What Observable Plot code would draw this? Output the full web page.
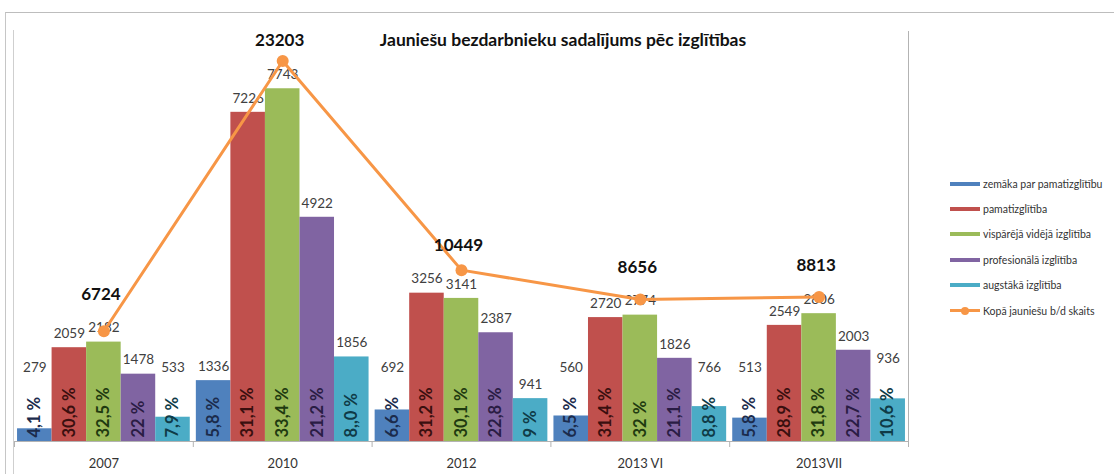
<!DOCTYPE html>
<html><head><meta charset="utf-8">
<script src="https://cdn.jsdelivr.net/npm/d3@7"></script>
<script src="https://cdn.jsdelivr.net/npm/@observablehq/plot@0.6"></script>
<style>
body{margin:0;background:#fff;font-family:Lato,"Open Sans",sans-serif;}
#wrap{position:relative;width:1114px;height:474px;overflow:hidden;background:#fff;}
#border{position:absolute;left:5px;top:12px;width:1200px;height:500px;border-top:1.5px solid #bdbdbd;border-left:1.5px solid #c6c6c6;}
#leftline{position:absolute;left:13px;top:30px;width:1px;height:444px;background:#cfcfcf;}
#chart{position:absolute;left:0;top:0;}
#title{position:absolute;left:0;width:1126px;top:29px;text-align:center;font-weight:700;font-size:17.5px;color:#111;}
#legend{position:absolute;left:950px;top:171px;font-size:10.5px;color:#333;}
.item{display:flex;align-items:center;height:25.4px;white-space:nowrap;}
.sw{width:30px;height:4px;margin-right:3px;position:relative;}
.dot{position:absolute;left:11px;top:-2.5px;width:8px;height:8px;border-radius:50%;}
</style></head>
<body>
<div id="wrap">
  <div id="border"></div>
  <div id="leftline"></div>
  <div id="chart"></div>
  <div id="title">Jauniešu bezdarbnieku sadalījums pēc izglītības</div>
  <div id="legend"></div>
</div>
<script>
// ---- data ----
const groups = ["2007", "2010", "2012", "2013 VI", "2013VII"];
const seriesNames = ["zemāka par pamatizglītību", "pamatizglītība", "vispārējā vidējā izglītība", "profesionālā izglītība", "augstākā izglītība"];
const zemaka = [279, 1336, 692, 560, 513];
const pamat = [2059, 7226, 3256, 2720, 2549];
const visparejaVideja = [2182, 7743, 3141, 2774, 2806];
const profesionala = [1478, 4922, 2387, 1826, 2003];
const augstaka = [533, 1856, 941, 766, 936];
const zemakaPct = ["4,1 %", "5,8 %", "6,6 %", "6,5 %", "5,8 %"];
const pamatPct = ["30,6 %", "31,1 %", "31,2 %", "31,4 %", "28,9 %"];
const visparejaVidejaPct = ["32,5 %", "33,4 %", "30,1 %", "32 %", "31,8 %"];
const profesionalaPct = ["22 %", "21,2 %", "22,8 %", "21,1 %", "22,7 %"];
const augstakaPct = ["7,9 %", "8,,0 %", "9 %", "8,8 %", "10,6 %"];
const totals = [6724, 23203, 10449, 8656, 8813];
const totalName = "Kopā jauniešu b/d skaits";

// ---- styles ----
const barColors = ["#4F81BD", "#C0504D", "#9BBB59", "#8064A2", "#4BACC6"];
const pctColors = ["#1b2b4c", "#3a0f0f", "#1f3a10", "#2a1c44", "#0f3b47"];
const lineColor = "#F79646";

const values = [zemaka, pamat, visparejaVideja, profesionala, augstaka];
const pcts = [zemakaPct, pamatPct, visparejaVidejaPct, profesionalaPct, augstakaPct];

const W = 1114, H = 474, mL = 14, mR = 206, mT = 31, mB = 33;
const primaryMax = 9000, secondaryMax = 25000;
const k = primaryMax / secondaryMax;
const pxPerUnit = (H - mT - mB) / primaryMax;

const bars = [];
groups.forEach((g, i) => seriesNames.forEach((s, j) => bars.push({g, i, s, j, v: values[j][i], p: pcts[j][i]})));
const pad = 0.017, bw = (1 - 2 * pad) / seriesNames.length;
const bx1 = d => d.i + pad + d.j * bw;
const bx2 = d => bx1(d) + bw;
const bxc = d => bx1(d) + bw / 2;
const labelY = d => Math.max(d.v, (d.p.length * 9 + 15) / pxPerUnit);

const lineData = groups.map((g, i) => ({g, i, t: totals[i], m: d3.max(values, a => a[i])}));
const gx = d => d.i + 0.5;

const chart = Plot.plot({
  width: W, height: H,
  marginLeft: mL, marginRight: mR, marginTop: mT, marginBottom: mB,
  x: {type: "linear", domain: [0, groups.length], label: null},
  y: {domain: [0, primaryMax], axis: null},
  color: {type: "identity"},
  style: {fontFamily: "Lato, 'Open Sans', sans-serif", background: "transparent", overflow: "visible"},
  marks: [
    Plot.rectY(bars, {x1: bx1, x2: bx2, y1: 0, y2: "v", fill: d => barColors[d.j]}),
    Plot.ruleY([0], {stroke: "#b3b3b3"}),
    Plot.ruleX([groups.length], {stroke: "#b3b3b3"}),
    Plot.axisX({ticks: d3.range(groups.length + 1), tickSize: 6, tickFormat: () => "", stroke: "#b3b3b3", label: null}),
    Plot.text(lineData, {x: gx, y: 0, text: "g", dy: 22, fontSize: 13, fill: "#333"}),
    Plot.text(bars, {x: bxc, y: 0, text: "p", rotate: -90, textAnchor: "start", dy: -4, fontSize: 16.5, fontWeight: 700, fill: d => pctColors[d.j]}),
    Plot.text(bars, {x: bxc, y: labelY, text: d => String(d.v), dy: -14, fontSize: 13.5, fill: "#404040"}),
    Plot.line(lineData, {x: gx, y: d => d.t * k, stroke: lineColor, strokeWidth: 3}),
    Plot.dot(lineData, {x: gx, y: d => d.t * k, r: 6, fill: lineColor}),
    Plot.text(lineData, {x: gx, y: "m", text: d => String(d.t), dy: -48, dx: -3, fontSize: 17, fontWeight: 700, fill: "#111"})
  ]
});
document.getElementById("chart").appendChild(chart);

// legend
const legend = document.getElementById("legend");
seriesNames.forEach((s, j) => {
  const it = document.createElement("div"); it.className = "item";
  it.innerHTML = `<span class="sw" style="background:${barColors[j]}"></span><span>${s}</span>`;
  legend.appendChild(it);
});
const lt = document.createElement("div"); lt.className = "item";
lt.innerHTML = `<span class="sw" style="background:${lineColor};height:3px"><span class="dot" style="background:${lineColor}"></span></span><span>${totalName}</span>`;
legend.appendChild(lt);
</script>
</body></html>
